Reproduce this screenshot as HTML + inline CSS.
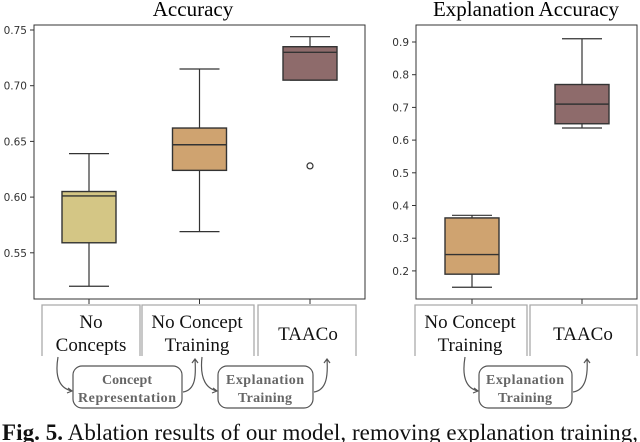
<!DOCTYPE html>
<html><head><meta charset="utf-8"><style>
body{margin:0;background:#fff;width:640px;height:442px;overflow:hidden;position:relative;font-family:"Liberation Serif",serif}
svg{position:absolute;left:0;top:0}
</style></head><body>
<svg width="640" height="442" id="fig">
<text x="193" y="16" text-anchor="middle" font-size="21" font-family="Liberation Serif">Accuracy</text>
<text x="526" y="16" text-anchor="middle" font-size="21" font-family="Liberation Serif">Explanation Accuracy</text>
<rect x="34" y="25" width="331" height="274" fill="none" stroke="#333" stroke-width="1"/>
<rect x="416" y="25" width="221" height="274" fill="none" stroke="#333" stroke-width="1"/>
<g id="left"></g>
<g id="right"></g>
<g stroke="#aaa" fill="none" stroke-width="1.3">
<path d="M42 356V305H140V356"/>
<path d="M142 356V305H254V356"/>
<path d="M258 356V305H356V356"/>
<path d="M415 356V305H527V356"/>
<path d="M530 356V305H637V356"/>
</g>
<g font-size="19" text-anchor="middle" fill="#111">
<text x="91" y="328">No</text>
<text x="91" y="351">Concepts</text>
<text x="197" y="328">No Concept</text>
<text x="197" y="351">Training</text>
<text x="308" y="340">TAACo</text>
<text x="470" y="328">No Concept</text>
<text x="470" y="351">Training</text>
<text x="583" y="340">TAACo</text>
</g>
<g stroke="#555" fill="none" stroke-width="1.2">
<rect x="73" y="366" width="109" height="42" rx="9"/>
<rect x="218" y="366" width="95" height="42" rx="9"/>
<rect x="479" y="366" width="93" height="42" rx="9"/>
<path d="M58 357C55 375 58 388 72 391M68 388L72 391L67 393"/>
<path d="M183 392C196 390 196 375 195 359M192 363L195 359L198 363"/>
<path d="M202 357C200 375 204 388 217 391M213 388L217 391L212 393"/>
<path d="M314 392C327 390 328 375 327 359M324 363L327 359L330 363"/>
<path d="M465 357C462 375 465 388 478 391M474 388L478 391L473 393"/>
<path d="M573 392C586 390 588 375 587 359M584 363L587 359L590 363"/>
</g>
<g font-size="14" font-weight="bold" text-anchor="middle" fill="#666">
<text x="127" y="384" textLength="50">Concept</text><text x="127" y="402" textLength="98">Representation</text>
<text x="265" y="384" textLength="78">Explanation</text><text x="265" y="402" textLength="54">Training</text>
<text x="525" y="384" textLength="78">Explanation</text><text x="525" y="402" textLength="54">Training</text>
</g>
<text x="2" y="440" font-size="23" fill="#111" textLength="636"><tspan font-weight="bold">Fig. 5.</tspan> Ablation results of our model, removing explanation training,</text>
</svg>
<script>
const leftCats=["No Concepts","No Concept Training","TAACo"];
const leftMin=[0.520,0.569,0.705];
const leftQ1=[0.559,0.624,0.705];
const leftMed=[0.601,0.647,0.730];
const leftQ3=[0.605,0.662,0.735];
const leftMax=[0.639,0.715,0.744];
const leftOutliers=[[],[],[0.628]];
const leftTicks=[0.55,0.60,0.65,0.70,0.75];
const rightCats=["No Concept Training","TAACo"];
const rightMin=[0.15,0.637];
const rightQ1=[0.19,0.65];
const rightMed=[0.25,0.71];
const rightQ3=[0.362,0.77];
const rightMax=[0.37,0.91];
const rightOutliers=[[],[]];
const rightTicks=[0.2,0.3,0.4,0.5,0.6,0.7,0.8,0.9];
const NS="http://www.w3.org/2000/svg";
function mk(g,tag,attrs){const e=document.createElementNS(NS,tag);for(const k in attrs)e.setAttribute(k,attrs[k]);g.appendChild(e);return e;}
function draw(gid,cats,mins,q1,med,q3,maxs,outs,ticks,yFn,xFn,axX,fmt,colors){
  const g=document.getElementById(gid);
  ticks.forEach(t=>{
    const y=yFn(t);
    const l=mk(g,'line',{x1:axX-4,x2:axX,y1:y,y2:y,stroke:'#333'});
    
    
    const tx=mk(g,'text',{x:axX-7,y:y+4,'text-anchor':'end','font-size':10.5,'font-family':'DejaVu Sans, sans-serif',fill:'#333'});
    tx.textContent=fmt(t);
    
    
  });
  cats.forEach((c,i)=>{
    const cx=xFn(i),w=54;
    const tk=mk(g,'line',{x1:cx,x2:cx,y1:299,y2:304,stroke:'#333'});
    
    
    const wh=mk(g,'path',{d:`M${cx} ${yFn(maxs[i])}V${yFn(q3[i])}M${cx} ${yFn(q1[i])}V${yFn(mins[i])}M${cx-20} ${yFn(maxs[i])}H${cx+20}M${cx-20} ${yFn(mins[i])}H${cx+20}`,stroke:'#333','stroke-width':1.2,fill:'none'});
    
    
    const b=mk(g,'rect',{x:cx-w/2,y:yFn(q3[i]),width:w,height:yFn(q1[i])-yFn(q3[i]),fill:colors[i],stroke:'#333','stroke-width':1.4});
    
    
    const m=mk(g,'line',{x1:cx-w/2,x2:cx+w/2,y1:yFn(med[i]),y2:yFn(med[i]),stroke:'#333','stroke-width':1.4});
    
    
    outs[i].forEach(o=>{
      const p=mk(g,'circle',{cx:cx,cy:yFn(o),r:3,fill:'none',stroke:'#333','stroke-width':1.2});
      
      
    });
  });
}
draw('left',leftCats,leftMin,leftQ1,leftMed,leftQ3,leftMax,leftOutliers,leftTicks,
  v=>30+(0.75-v)/0.05*55.7, i=>89+i*110.5, 34, t=>t.toFixed(2), ['#d4c685','#cfa370','#8e6b6b']);
draw('right',rightCats,rightMin,rightQ1,rightMed,rightQ3,rightMax,rightOutliers,rightTicks,
  v=>42+(0.9-v)/0.1*32.7, i=>472+i*110, 416, t=>t.toFixed(1), ['#cfa370','#8e6b6b']);
</script>
</body></html>
